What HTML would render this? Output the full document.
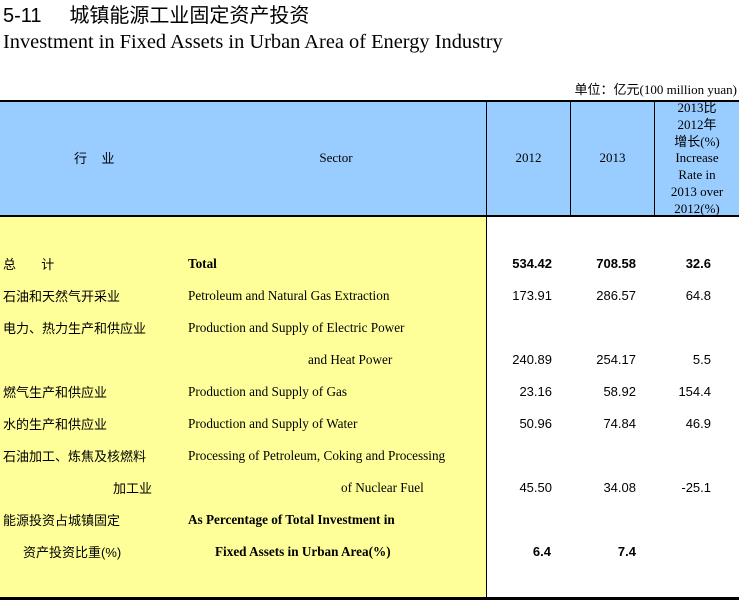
<!DOCTYPE html>
<html><head><meta charset="utf-8"><style>
body{margin:0;width:739px;height:600px;overflow:hidden;background:#fff;position:relative;font-family:"Liberation Serif","Noto Sans CJK SC",serif;color:#000}
div{position:absolute;white-space:nowrap;line-height:16px}
.cn{font-family:"Liberation Sans","Noto Sans CJK SC",sans-serif;font-size:13px;margin-top:1px}
.en{font-family:"Liberation Serif","Noto Serif CJK SC",serif;font-size:13.2px}
.n{font-family:"Liberation Sans",sans-serif;font-size:13px;text-align:right}
.b{font-weight:bold}
.h{font-family:"Liberation Serif","Noto Sans CJK SC",serif;font-size:13px;text-align:center}
</style></head><body>
<div style="left:3px;top:4px;font-family:'Liberation Sans','Noto Sans CJK SC',sans-serif;font-size:20px;line-height:24px">5-11&nbsp;&nbsp;&nbsp;&nbsp;&nbsp;城镇能源工业固定资产投资</div>
<div style="left:3px;top:30px;font-size:20.4px;line-height:24px">Investment in Fixed Assets in Urban Area of Energy Industry</div>
<div style="right:2px;top:82px;font-size:13px;font-family:'Liberation Serif','Noto Sans CJK SC',serif">单位：亿元(100 million yuan)</div>
<div style="left:0;top:100px;width:739px;height:2px;background:#000"></div>
<div style="left:0;top:102px;width:739px;height:113px;background:#99ccff"></div>
<div style="left:0;top:215px;width:739px;height:2px;background:#000"></div>
<div style="left:0;top:217px;width:486px;height:380px;background:#ffff99"></div>
<div style="left:486px;top:102px;width:1px;height:495px;background:#000"></div>
<div style="left:570px;top:102px;width:1px;height:113px;background:#000"></div>
<div style="left:654px;top:102px;width:1px;height:113px;background:#000"></div>
<div style="left:0;top:597px;width:739px;height:3px;background:#000"></div>
<div class="cn" style="left:74px;top:150px">行&nbsp;&nbsp;&nbsp;&nbsp;业</div>
<div class="h" style="left:300px;width:72px;top:150px">Sector</div>
<div class="h" style="left:487px;width:83px;top:150px">2012</div>
<div class="h" style="left:571px;width:83px;top:150px">2013</div>
<div class="h" style="left:655px;width:84px;top:100px;line-height:16.8px">2013比<br>2012年<br>增长(%)<br>Increase<br>Rate in<br>2013 over<br>2012(%)</div>

<div class="cn" style="left:3px;top:256px">总&nbsp;&nbsp;&nbsp;&nbsp;&nbsp;&nbsp;&nbsp;计</div>
<div class="en b" style="left:188px;top:256px">Total</div>
<div class="n b" style="right:187px;top:256px">534.42</div>
<div class="n b" style="right:103px;top:256px">708.58</div>
<div class="n b" style="right:28px;top:256px">32.6</div>

<div class="cn" style="left:3px;top:288px">石油和天然气开采业</div>
<div class="en" style="left:188px;top:288px">Petroleum and Natural Gas Extraction</div>
<div class="n" style="right:187px;top:288px">173.91</div>
<div class="n" style="right:103px;top:288px">286.57</div>
<div class="n" style="right:28px;top:288px">64.8</div>

<div class="cn" style="left:3px;top:320px">电力、热力生产和供应业</div>
<div class="en" style="left:188px;top:320px">Production and Supply of Electric Power</div>
<div class="en" style="left:308px;top:352px">and Heat Power</div>
<div class="n" style="right:187px;top:352px">240.89</div>
<div class="n" style="right:103px;top:352px">254.17</div>
<div class="n" style="right:28px;top:352px">5.5</div>

<div class="cn" style="left:3px;top:384px">燃气生产和供应业</div>
<div class="en" style="left:188px;top:384px">Production and Supply of Gas</div>
<div class="n" style="right:187px;top:384px">23.16</div>
<div class="n" style="right:103px;top:384px">58.92</div>
<div class="n" style="right:28px;top:384px">154.4</div>

<div class="cn" style="left:3px;top:416px">水的生产和供应业</div>
<div class="en" style="left:188px;top:416px">Production and Supply of Water</div>
<div class="n" style="right:187px;top:416px">50.96</div>
<div class="n" style="right:103px;top:416px">74.84</div>
<div class="n" style="right:28px;top:416px">46.9</div>

<div class="cn" style="left:3px;top:448px">石油加工、炼焦及核燃料</div>
<div class="en" style="left:188px;top:448px">Processing of Petroleum, Coking and Processing</div>
<div class="cn" style="left:113px;top:480px">加工业</div>
<div class="en" style="left:341px;top:480px">of Nuclear Fuel</div>
<div class="n" style="right:187px;top:480px">45.50</div>
<div class="n" style="right:103px;top:480px">34.08</div>
<div class="n" style="right:28px;top:480px">-25.1</div>

<div class="cn" style="left:3px;top:512px">能源投资占城镇固定</div>
<div class="en b" style="left:188px;top:512px">As Percentage of Total Investment in</div>
<div class="cn" style="left:23px;top:544px">资产投资比重(%)</div>
<div class="en b" style="left:215px;top:544px">Fixed Assets in Urban Area(%)</div>
<div class="n b" style="right:188px;top:544px">6.4</div>
<div class="n b" style="right:103px;top:544px">7.4</div>
</body></html>
